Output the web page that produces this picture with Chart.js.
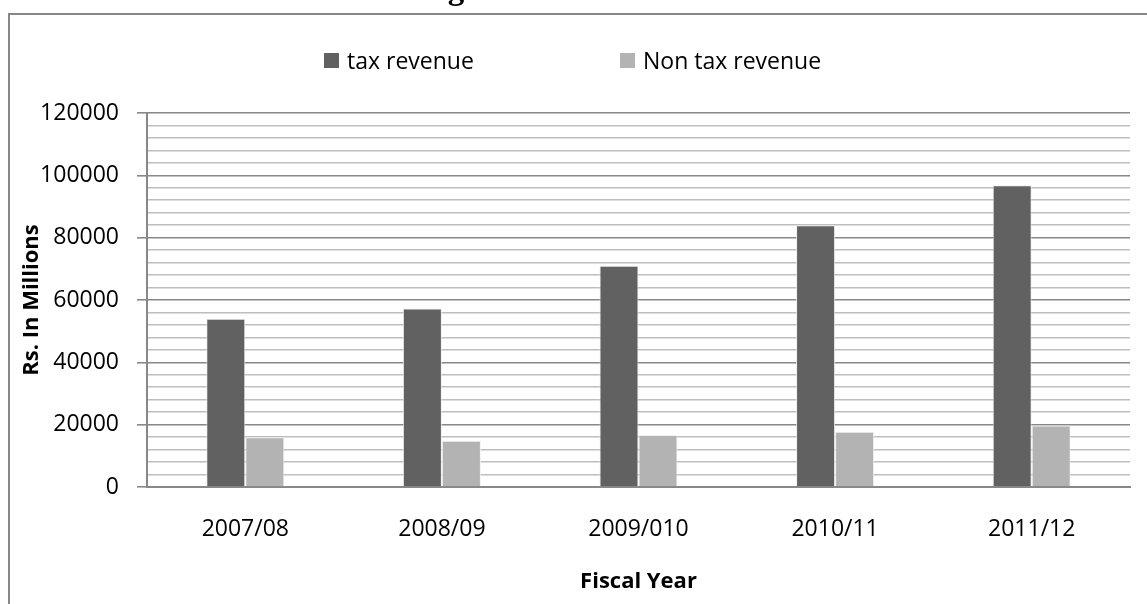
<!DOCTYPE html>
<html>
<head>
<meta charset="utf-8">
<script src="https://cdn.jsdelivr.net/npm/chart.js@4"></script>
<style>
  html, body { margin: 0; padding: 0; background: #ffffff; }
  #wrap { width: 1147px; height: 604px; position: relative; }
</style>
</head>
<body>
<div id="wrap"><canvas id="c" width="1147" height="604"></canvas></div>
<script>
const categories = ["2007/08", "2008/09", "2009/010", "2010/11", "2011/12"];
const taxRevenue = [54000, 57300, 71000, 84000, 96800];
const nonTaxRevenue = [16000, 14800, 16700, 17700, 19700];
const seriesNames = ["tax revenue", "Non tax revenue"];
const chartTitle = "Magnitude of Revenue";
const yAxisTitle = "Rs. In Millions";
const xAxisTitle = "Fiscal Year";

const FONT = "'Open Sans', 'Liberation Sans', sans-serif";
const MAJOR = '#888888';
const MINOR = '#bebebe';

const decorPlugin = {
  id: 'decor',
  beforeDraw(chart) {
    const ctx = chart.ctx;
    ctx.save();
    ctx.fillStyle = '#ffffff';
    ctx.fillRect(0, 0, chart.width, chart.height);
    ctx.restore();
  },
  afterDraw(chart) {
    const ctx = chart.ctx;
    ctx.save();
    // frame
    ctx.strokeStyle = '#878787';
    ctx.lineWidth = 2;
    ctx.beginPath();
    ctx.moveTo(9, 606);
    ctx.lineTo(9, 14);
    ctx.lineTo(1150, 14);
    ctx.stroke();
    // title (mostly cropped above the picture)
    ctx.fillStyle = '#000000';
    ctx.font = "bold 33px 'Liberation Serif', 'DejaVu Serif', serif";
    ctx.textAlign = 'left';
    ctx.textBaseline = 'alphabetic';
    ctx.fillText(chartTitle, 400, -1);
    // legend
    const boxes = [[324, 347], [620, 643]];
    ctx.font = "23px " + FONT;
    chart.data.datasets.forEach((ds, i) => {
      const [bx, tx] = boxes[i];
      ctx.fillStyle = ds.backgroundColor;
      ctx.fillRect(bx, 53, 15, 15);
      ctx.fillStyle = '#000000';
      ctx.fillText(ds.label, tx, 69);
    });
    ctx.restore();
  }
};

new Chart(document.getElementById('c'), {
  type: 'bar',
  data: {
    labels: categories,
    datasets: [
      { label: seriesNames[0], data: taxRevenue, backgroundColor: '#616161',
        borderColor: 'rgba(235,235,235,0.9)', borderWidth: 1 },
      { label: seriesNames[1], data: nonTaxRevenue, backgroundColor: '#b3b3b3',
        borderColor: 'rgba(240,240,240,0.9)', borderWidth: 1 }
    ]
  },
  options: {
    responsive: false,
    animation: false,
    events: [],
    layout: { padding: { left: 0, right: 17, top: 113, bottom: 0 } },
    datasets: { bar: { categoryPercentage: 0.397, barPercentage: 1.0 } },
    plugins: {
      legend: { display: false },
      title: { display: false },
      tooltip: { enabled: false }
    },
    scales: {
      x: {
        afterFit(scale) { scale.height = 117; },
        grid: { display: false, drawTicks: false },
        border: { display: true, color: MAJOR, width: 2 },
        ticks: { color: '#000000', font: { family: FONT, size: 23 }, padding: 29, maxRotation: 0 },
        title: { display: true, text: xAxisTitle, color: '#000000',
                 font: { family: FONT, size: 22, weight: 'bold' }, padding: { top: 0, bottom: 9 } }
      },
      y: {
        min: 0, max: 120000,
        afterFit(scale) { scale.width = 147; },
        grid: {
          color: (c) => (c.tick && c.tick.value % 20000 === 0) ? MAJOR : MINOR,
          tickColor: (c) => (c.tick && c.tick.value % 20000 === 0) ? MAJOR : 'rgba(0,0,0,0)',
          lineWidth: 1.6,
          tickLength: 10,
          drawTicks: true
        },
        border: { display: true, color: MAJOR, width: 2 },
        ticks: {
          stepSize: 4000,
          autoSkip: false,
          color: '#000000',
          font: { family: FONT, size: 23 },
          padding: 18,
          callback: (v) => (v % 20000 === 0 ? String(v) : '')
        },
        title: { display: true, text: yAxisTitle, color: '#000000',
                 font: { family: FONT, size: 22, weight: 'bold' }, padding: { top: 19, bottom: 0 } }
      }
    }
  },
  plugins: [decorPlugin]
});
</script>
</body>
</html>
